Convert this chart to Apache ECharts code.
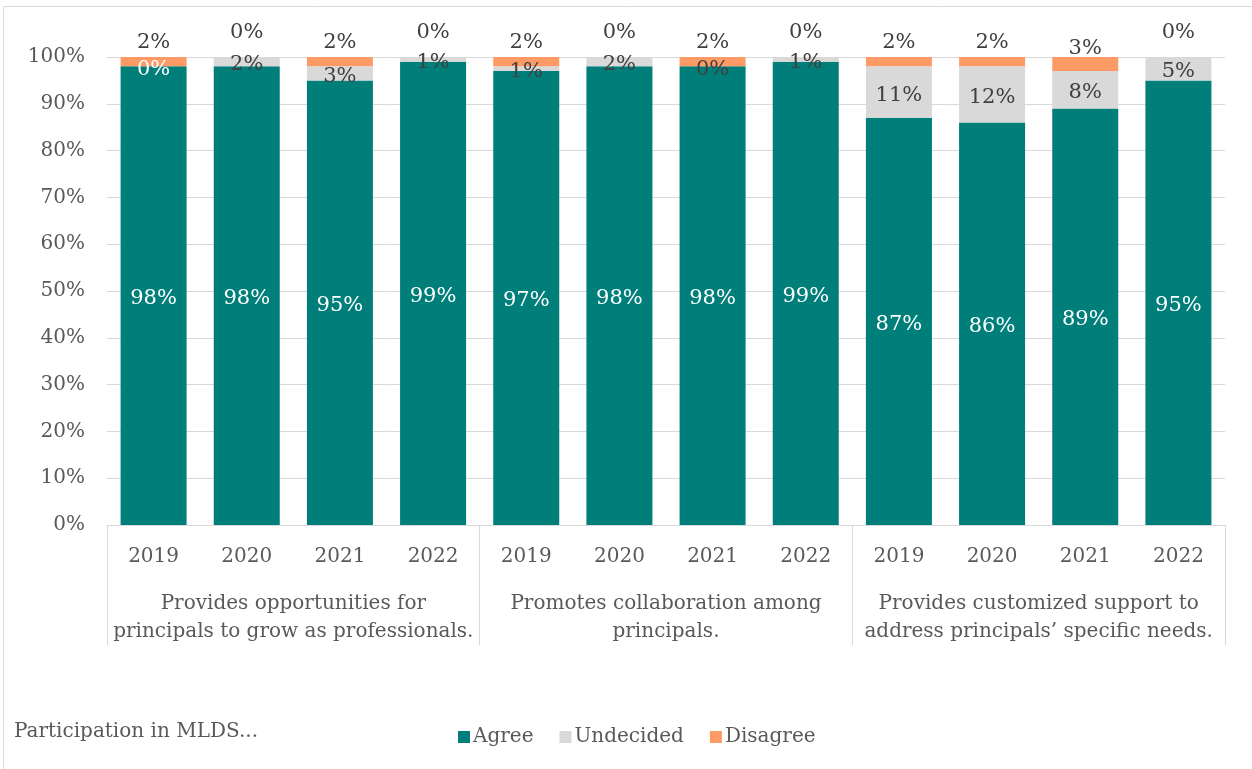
<!DOCTYPE html>
<html>
<head>
<meta charset="utf-8">
<script src="https://cdn.jsdelivr.net/npm/echarts@6/dist/echarts.min.js"></script>
<style>
  html, body { margin: 0; padding: 0; background: #fff; }
  #chart { width: 1252px; height: 769px; }
</style>
</head>
<body>
<div id="chart"></div>
<script>
// Survey years per statement, and the three statements they belong to
const years = ['2019', '2020', '2021', '2022', '2019', '2020', '2021', '2022', '2019', '2020', '2021', '2022'];
const statements = [
  'Provides opportunities for\nprincipals to grow as professionals.',
  'Promotes collaboration among\nprincipals.',
  'Provides customized support to\naddress principals\u2019 specific needs.'
];
const yTicks = [0, 10, 20, 30, 40, 50, 60, 70, 80, 90, 100];

// Share of respondents (%)
const agree     = [98, 98, 95, 99, 97, 98, 98, 99, 87, 86, 89, 95];
const undecided = [ 0,  2,  3,  1,  1,  2,  0,  1, 11, 12,  8,  5];
const disagree  = [ 2,  0,  2,  0,  2,  0,  2,  0,  2,  2,  3,  0];

const FONT = 'DejaVu Serif';
const TEXT = '#404040';
const AXIS_TEXT = '#595959';
const TEAL = '#007E7A';
const GREY = '#D9D9D9';
const ORANGE = '#FD9A66';

const chart = echarts.init(document.getElementById('chart'));

const pct = p => p.value + '%';

chart.setOption({
  animation: false,
  textStyle: { fontFamily: FONT },
  graphic: [
    {
      type: 'rect',
      shape: { x: 3.5, y: 6.5, width: 1400, height: 900 },
      style: { fill: 'none', stroke: '#d9d9d9', lineWidth: 1 },
      silent: true
    },
    {
      type: 'text',
      left: 14, top: 722,
      style: { text: 'Participation in MLDS...', font: '20px "' + FONT + '"', fill: AXIS_TEXT }
    }
  ],
  legend: {
    left: 453, top: 722,
    itemWidth: 12, itemHeight: 12, itemGap: 26,
    icon: 'rect',
    textStyle: { fontFamily: FONT, fontSize: 20, color: AXIS_TEXT, padding: [0, 0, 0, -2] },
    data: ['Agree', 'Undecided', 'Disagree']
  },
  grid: { left: 107, right: 27, top: 57, bottom: 244, containLabel: false },
  xAxis: [
    {
      type: 'category',
      data: years,
      axisLine: { show: true, lineStyle: { color: GREY } },
      axisTick: { show: false },
      axisLabel: { color: AXIS_TEXT, fontSize: 20, margin: 22, interval: 0, fontFamily: FONT }
    },
    {
      type: 'category',
      data: statements,
      position: 'bottom',
      axisLine: { show: false },
      axisTick: { show: true, interval: 0, length: 120, lineStyle: { color: GREY } },
      axisLabel: { color: AXIS_TEXT, fontSize: 20, margin: 65, lineHeight: 28, interval: 0, fontFamily: FONT }
    }
  ],
  yAxis: {
    type: 'value',
    min: yTicks[0], max: yTicks[yTicks.length - 1], interval: 10,
    axisLine: { show: false },
    axisTick: { show: false },
    splitLine: { lineStyle: { color: GREY, width: 1 } },
    axisLabel: { color: AXIS_TEXT, fontSize: 20, margin: 22, fontFamily: FONT, formatter: v => v + '%' }
  },
  series: [
    {
      name: 'Agree', type: 'bar', stack: 'all', barWidth: 66,
      itemStyle: { color: TEAL },
      label: { show: true, position: 'inside', offset: [0, 3], color: '#fff', fontSize: 21, fontFamily: FONT, formatter: pct },
      data: agree
    },
    {
      name: 'Undecided', type: 'bar', stack: 'all',
      itemStyle: { color: GREY },
      label: { show: true, position: 'inside', offset: [0, 3], color: TEXT, fontSize: 21, fontFamily: FONT, formatter: pct },
      data: undecided.map((v, i) => i === 0 ? { value: v, label: { color: '#fff' } } : v)
    },
    {
      name: 'Disagree', type: 'bar', stack: 'all',
      itemStyle: { color: ORANGE },
      label: { show: true, position: 'top', offset: [0, 2], color: TEXT, fontSize: 21, fontFamily: FONT, formatter: pct },
      data: disagree.map(v => ({ value: v, label: { distance: v === 0 ? 16 : (v >= 3 ? 0 : 6) } }))
    }
  ]
});
</script>
</body>
</html>
